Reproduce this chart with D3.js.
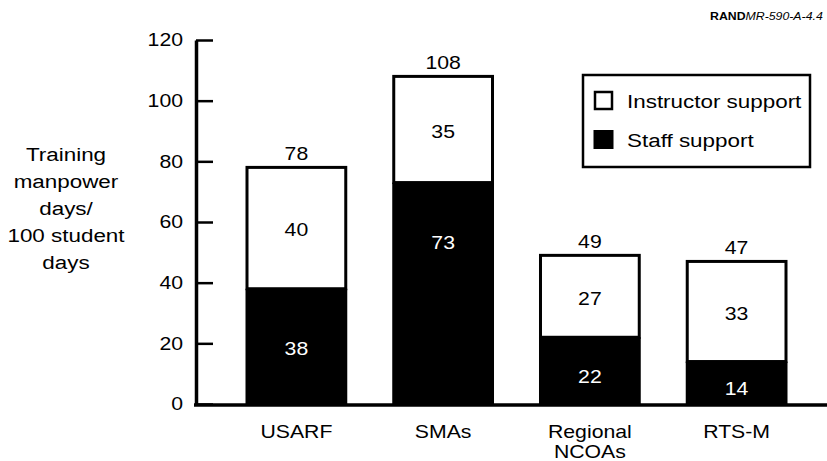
<!DOCTYPE html>
<html>
<head>
<meta charset="utf-8">
<script src="https://cdn.jsdelivr.net/npm/d3@7/dist/d3.min.js"></script>
<style>
  html, body { margin: 0; padding: 0; background: #fff; }
  svg { display: block; font-family: "Liberation Sans", Arial, Helvetica, sans-serif; }
</style>
</head>
<body>
<svg id="chart" width="827" height="461"></svg>
<script>
// ---- data ----
const categories = ["USARF", "SMAs", "Regional\nNCOAs", "RTS-M"];
const staffSupport = [38, 73, 22, 14];
const instructorSupport = [40, 35, 27, 33];
const totals = [78, 108, 49, 47];
const yTicks = [0, 20, 40, 60, 80, 100, 120];
const seriesNames = ["Instructor support", "Staff support"];
const yTitle = ["Training", "manpower", "days/", "100 student", "days"];

// ---- layout ----
const W = 827, H = 461;
const SX = 1.18; // horizontal stretch of the scanned lettering
const svg = d3.select("#chart");

const y = d3.scaleLinear().domain([0, 120]).range([404, 40]);
const x = d3.scaleBand().domain(categories).range([247, 786]).paddingInner(0.327).paddingOuter(0);

function txt(sel, px, py, str, size, anchor, weight, style) {
  const g = sel.append("g").attr("transform", `translate(${px},${py}) scale(${SX},1)`);
  const t = g.append("text")
    .attr("text-anchor", anchor || "middle")
    .attr("font-size", size)
    .attr("fill", "#000")
    .text(str);
  if (weight) t.attr("font-weight", weight);
  if (style) t.attr("font-style", style);
  return t;
}

// bars
const data = categories.map((c, i) => ({c, staff: staffSupport[i], instr: instructorSupport[i], total: totals[i]}));
const bars = svg.append("g");
data.forEach(d => {
  const x0 = x(d.c), bw = x.bandwidth();
  const yTop = y(d.total), yMid = y(d.staff), yBase = y(0);
  // instructor (white) segment
  bars.append("rect")
    .attr("x", x0).attr("y", yTop).attr("width", bw).attr("height", yMid - yTop)
    .attr("fill", "#fff").attr("stroke", "#000").attr("stroke-width", 3);
  // staff (black) segment
  bars.append("rect")
    .attr("x", x0 - 1.5).attr("y", yMid).attr("width", bw + 3).attr("height", yBase - yMid)
    .attr("fill", "#000");
  const cx = x0 + bw / 2;
  // labels
  txt(bars, cx, yTop - 7, d.total, 18);
  txt(bars, cx, (yTop + yMid) / 2 + 2, d.instr, 18).attr("dy", "0.35em");
  const staffY = Math.min((yMid + yBase) / 2 + 6, yMid + 60);
  txt(bars, cx, staffY, d.staff, 18).attr("dy", "0.35em").attr("fill", "#fff");
});

// y axis
const yAxis = d3.axisLeft(y).tickValues(yTicks).tickSize(-17).tickSizeOuter(0).tickPadding(13);
const gy = svg.append("g").attr("transform", "translate(196,0)").call(yAxis);
gy.select(".domain").attr("stroke", "#000").attr("stroke-width", 3.5);
gy.selectAll(".tick line").attr("stroke", "#000").attr("stroke-width", 2.5);
gy.selectAll(".tick text")
  .attr("font-size", 18).attr("fill", "#000")
  .attr("font-family", '"Liberation Sans", Arial, sans-serif')
  .attr("x", -13 / SX)
  .attr("transform", `scale(${SX},1)`);

// x baseline
svg.append("line")
  .attr("x1", 194).attr("x2", W).attr("y1", y(0) + 1).attr("y2", y(0) + 1)
  .attr("stroke", "#000").attr("stroke-width", 3.5);

// x category labels
categories.forEach(c => {
  const lines = c.split("\n");
  lines.forEach((ln, k) => {
    txt(svg, x(c) + x.bandwidth() / 2, 438 + k * 20, ln, 18);
  });
});

// y title
yTitle.forEach((ln, k) => {
  txt(svg, 66, 161 + k * 27, ln, 19);
});

// legend
const lg = svg.append("g");
lg.append("rect").attr("x", 583).attr("y", 75).attr("width", 227).attr("height", 92)
  .attr("fill", "#fff").attr("stroke", "#000").attr("stroke-width", 2.5);
lg.append("rect").attr("x", 595).attr("y", 92).attr("width", 17).attr("height", 17)
  .attr("fill", "#fff").attr("stroke", "#000").attr("stroke-width", 2.5);
lg.append("rect").attr("x", 593.5).attr("y", 130).attr("width", 20).attr("height", 19)
  .attr("fill", "#000");
txt(lg, 627, 108, seriesNames[0], 19, "start");
txt(lg, 627, 147, seriesNames[1], 19, "start");

// source tag
const tag = svg.append("g").attr("transform", `translate(710,20) scale(1.12,1)`);
const tt = tag.append("text").attr("font-size", 11).attr("fill", "#000");
tt.append("tspan").attr("font-weight", "bold").text("RAND");
tt.append("tspan").attr("font-style", "italic").text("MR-590-A-4.4");
</script>
</body>
</html>
